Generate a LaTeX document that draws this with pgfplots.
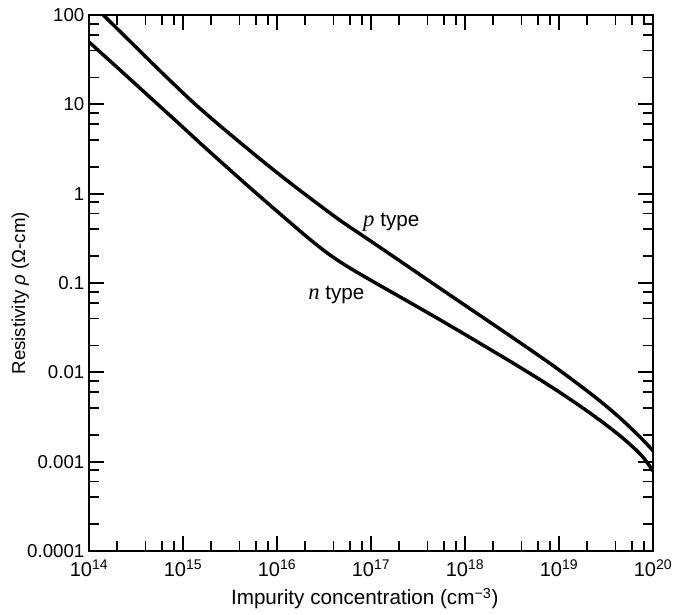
\documentclass[border=0pt]{standalone}
\usepackage{pgfplots}
\pgfplotsset{compat=1.18}
\usepackage{fontspec}
\setmainfont{Liberation Sans}
\newfontfamily\tnr{Liberation Serif}
\begin{document}
\begin{tikzpicture}[font=\fontsize{14}{16}\selectfont]
\begin{axis}[
  width=423pt, height=402pt, scale only axis,
  xmode=log, ymode=log,
  xmin=1e14, xmax=1e20, ymin=1e-4, ymax=100,
  xtick={1e14,1e15,1e16,1e17,1e18,1e19,1e20},
  xticklabels={10\textsuperscript{14},10\textsuperscript{15},10\textsuperscript{16},10\textsuperscript{17},10\textsuperscript{18},10\textsuperscript{19},10\textsuperscript{20}},
  ytick={1e-4,1e-3,1e-2,1e-1,1,10,100},
  yticklabels={0.0001,0.001,0.01,0.1,1,10,100},
  minor xtick={2e14,4e14,6e14,8e14,2e15,4e15,6e15,8e15,2e16,4e16,6e16,8e16,2e17,4e17,6e17,8e17,2e18,4e18,6e18,8e18,2e19,4e19,6e19,8e19},
  minor ytick={2e-4,4e-4,6e-4,8e-4,2e-3,4e-3,6e-3,8e-3,2e-2,4e-2,6e-2,8e-2,0.2,0.4,0.6,0.8,2,4,6,8,20,40,60,80},
  tick align=inside,
  xtick pos=both, ytick pos=both,
  major tick length=11.5pt, minor tick length=7.5pt,
  every tick/.style={black, line width=1.3pt},
  axis line style={line width=1.8pt},
  yticklabel style={font=\fontsize{14}{16}\selectfont},
  xticklabel style={font=\fontsize{15}{17}\selectfont, yshift=-3pt},
  xlabel={Impurity concentration (cm\textsuperscript{−3})},
  ylabel={Resistivity {\itshape ρ} (Ω-cm)},
  xlabel style={font=\fontsize{15.5}{17}\selectfont, at={(axis description cs:0.489,-0.1007)}, anchor=base},
  ylabel style={font=\fontsize{14}{16}\selectfont, at={(axis description cs:-0.1135,0.481)}, anchor=base},
]
% p type
\addplot[black, line width=2.6pt, smooth, tension=0.55] coordinates {
(1.419e14,100) (2.731e14,50.77) (5.692e14,23.74) (1.187e15,11.33) (2.190e15,6.424) (4.040e15,3.739) (7.455e15,2.204) (1.375e16,1.323) (2.537e16,0.8107) (4.680e16,0.5031) (1e17,0.2929) (2.035e17,0.1763) (4.243e17,0.1039) (1e18,0.05627) (2.357e18,0.03054) (4.914e18,0.01801) (9.066e18,0.01147) (1.672e19,0.007120) (2.731e19,0.004773) (4.456e19,0.003082) (7.275e19,0.001888) (1e20,0.001326)
};
% n type
\addplot[black, line width=2.6pt, smooth, tension=0.55] coordinates {
(1e14,49.86) (2.137e14,24.23) (4.456e14,11.99) (9.292e14,5.933) (1.517e15,3.691) (3.162e15,1.840) (6.594e15,0.9294) (1.757e16,0.3819) (2.537e16,0.2767) (3.663e16,0.2058) (5.290e16,0.1590) (7.638e16,0.1261) (1.246e17,0.09374) (2.035e17,0.06988) (4.243e17,0.04496) (8.847e17,0.02864) (1.845e18,0.01810) (3.848e18,0.01138) (8.022e18,0.007027) (1.672e19,0.004198) (3.085e19,0.002638) (5.036e19,0.001748) (7.638e19,0.001157) (1e20,0.000786)
};
\node[anchor=base west, inner sep=0pt, font=\fontsize{15.5}{17}\selectfont] at (axis cs:8.2e16,0.424) {{\tnr\itshape\fontsize{17}{19}\selectfont p} type};
\node[anchor=base west, inner sep=0pt, font=\fontsize{15.5}{17}\selectfont] at (axis cs:2.14e16,0.0646) {{\tnr\itshape\fontsize{17}{19}\selectfont n} type};
\end{axis}
\pgfresetboundingbox
\path[use as bounding box] ([shift={(-66.75pt,-47.25pt)}]current axis.south west) rectangle ([shift={(15pt,11.25pt)}]current axis.north east);
\end{tikzpicture}
\end{document}
